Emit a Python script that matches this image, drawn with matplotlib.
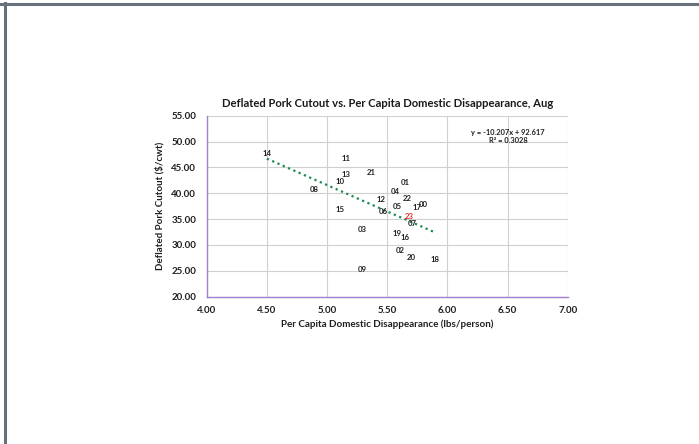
import matplotlib
matplotlib.use('Agg')
import matplotlib.pyplot as plt
import numpy as np
from matplotlib.lines import Line2D

# August observations: year label, per capita disappearance, deflated cutout
years = ['00', '01', '02', '03', '04', '05', '06', '07', '08', '09', '10', '11',
         '12', '13', '14', '15', '16', '17', '18', '19', '20', '21', '22', '23']
disappearance = [5.80, 5.65, 5.61, 5.29, 5.57, 5.58, 5.47, 5.71, 4.89, 5.29, 5.11, 5.16,
                 5.45, 5.16, 4.50, 5.11, 5.65, 5.75, 5.90, 5.58, 5.70, 5.37, 5.67, 5.68]
cutout = [36.57, 40.82, 27.67, 31.68, 39.08, 36.13, 35.22, 32.84, 39.41, 23.94, 40.88, 45.41,
          37.48, 42.24, 46.40, 35.60, 30.19, 35.85, 25.88, 30.90, 26.26, 42.62, 37.73, 34.11]
highlight = '23'

# linear trend (as reported)
slope = -10.207
intercept = 92.617
r_squared = 0.3028

x_ticks = [4.00, 4.50, 5.00, 5.50, 6.00, 6.50, 7.00]
y_ticks = [20.00, 25.00, 30.00, 35.00, 40.00, 45.00, 50.00, 55.00]

plt.rcParams['font.family'] = ['Lato', 'DejaVu Sans']

fig = plt.figure(figsize=(6.99, 4.44), dpi=100)
ax = fig.add_axes([0.2957, 0.3318, 0.5165, 0.4077])

for yr, x, y in zip(years, disappearance, cutout):
    color = '#e0302a' if yr == highlight else '#1f1f1f'
    ax.annotate(yr, (x, y), xytext=(0, 5), textcoords='offset points',
                ha='center', va='center', fontsize=5.6, fontweight='bold', color=color)

xs = np.array([min(disappearance), max(disappearance)])
ax.plot(xs, slope * xs + intercept, color='#1b8c4e', lw=1.6,
        linestyle=(0, (1, 1.6)))

ax.text(0.835, 0.885, f'y = {slope}x + {intercept}\nR² = {r_squared}',
        transform=ax.transAxes, ha='center', va='center', fontsize=5.4,
        fontweight='bold', color='#1f1f1f', linespacing=1.3)

ax.set_xlim(4.0, 7.0)
ax.set_ylim(20.0, 55.0)
ax.set_xticks(x_ticks)
ax.set_yticks(y_ticks)
ax.set_xticklabels([f'{v:.2f}' for v in x_ticks], fontweight='bold')
ax.set_yticklabels([f'{v:.2f}' for v in y_ticks], fontweight='bold')
ax.tick_params(length=0, labelsize=7, labelcolor='#1f1f1f')
ax.tick_params(axis='x', pad=7)
ax.tick_params(axis='y', pad=7.5)

ax.grid(True, color='#d0d0d0', lw=0.8)
ax.set_axisbelow(True)
for side in ['top', 'right']:
    ax.spines[side].set_visible(False)
for side in ['left', 'bottom']:
    ax.spines[side].set_color('#a07fd0')
    ax.spines[side].set_linewidth(1.0)

ax.set_title('Deflated Pork Cutout vs. Per Capita Domestic Disappearance, Aug',
             fontsize=8.1, fontweight='bold', color='#1a1a1a', pad=6)
ax.set_xlabel('Per Capita Domestic Disappearance (lbs/person)', fontsize=7.1,
              fontweight='bold', color='#1f1f1f', labelpad=3)
ax.set_ylabel('Deflated Pork Cutout ($/cwt)', fontsize=7.0,
              fontweight='bold', color='#1f1f1f', labelpad=5)

# page frame along the top and left edges
fig.add_artist(Line2D([0, 1], [1 - 4 / 444, 1 - 4 / 444], transform=fig.transFigure,
                      color='#66717b', lw=2.2))
fig.add_artist(Line2D([4.5 / 699, 4.5 / 699], [0, 1 - 3 / 444], transform=fig.transFigure,
                      color='#66717b', lw=2.2))

fig.savefig('out.png', dpi=100)
